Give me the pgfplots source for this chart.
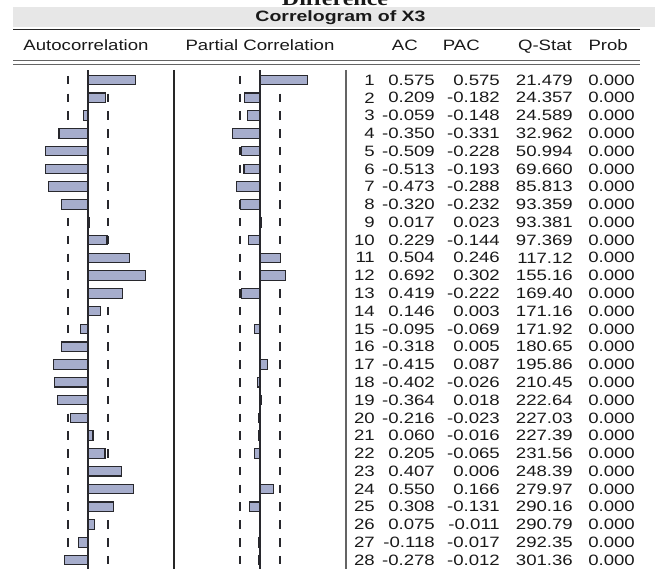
\documentclass[border=0pt]{standalone}
\usepackage{pgfplots}
\pgfplotsset{compat=1.18}
\usepackage{pgfplotstable}
\usepackage{graphicx}
\usepackage{fontspec}
\setmainfont{Liberation Sans}
\newfontfamily\serifbold{Liberation Serif}
\definecolor{barfill}{RGB}{166,173,204}
\definecolor{bardraw}{RGB}{40,40,45}
\definecolor{band}{RGB}{231,231,231}
\definecolor{rulegray}{RGB}{100,100,100}
\definecolor{txt}{RGB}{25,25,25}
\newcommand{\sx}[1]{\scalebox{1.24}[1]{#1}}
\newcommand{\rowfont}{\fontsize{15}{17}\selectfont}

\pgfplotstableread{
lag ac pac q prob
1 0.575 0.575 21.479 0.000
2 0.209 -0.182 24.357 0.000
3 -0.059 -0.148 24.589 0.000
4 -0.350 -0.331 32.962 0.000
5 -0.509 -0.228 50.994 0.000
6 -0.513 -0.193 69.660 0.000
7 -0.473 -0.288 85.813 0.000
8 -0.320 -0.232 93.359 0.000
9 0.017 0.023 93.381 0.000
10 0.229 -0.144 97.369 0.000
11 0.504 0.246 117.12 0.000
12 0.692 0.302 155.16 0.000
13 0.419 -0.222 169.40 0.000
14 0.146 0.003 171.16 0.000
15 -0.095 -0.069 171.92 0.000
16 -0.318 0.005 180.65 0.000
17 -0.415 0.087 195.86 0.000
18 -0.402 -0.026 210.45 0.000
19 -0.364 0.018 222.64 0.000
20 -0.216 -0.023 227.03 0.000
21 0.060 -0.016 227.39 0.000
22 0.205 -0.065 231.56 0.000
23 0.407 0.006 248.39 0.000
24 0.550 0.166 279.97 0.000
25 0.308 -0.131 290.16 0.000
26 0.075 -0.011 290.79 0.000
27 -0.118 -0.017 292.35 0.000
28 -0.278 -0.012 301.36 0.000
}\corr

\tikzset{
  dashline/.style={draw=bardraw, line width=1.2pt, dash pattern=on 8.5pt off 9.28pt},
  zeroline/.style={draw=bardraw, line width=1.3pt},
}
\pgfplotsset{
  panel/.style={scale only axis, hide axis, y dir=reverse, ymin=0, ymax=28.5,
    clip=false, height=506.78pt, at={(0,0)}, anchor=south west},
  corrbar/.style={xbar, bar width=9.5pt, fill=barfill, draw=bardraw, line width=1.1pt},
  txtcol/.style={draw=none, mark=none, forget plot, point meta=explicit symbolic,
    nodes near coords={\sx{\pgfplotspointmeta}},
    nodes near coords style={anchor=east, inner sep=0pt, text=txt, font=\rowfont}},
}

\begin{document}
\begin{tikzpicture}[x=1pt,y=1pt]
% header band
\fill[band] (13,569-27) rectangle (655,569-7);
\node[anchor=base, inner sep=0pt, font=\serifbold\bfseries\fontsize{20}{24}\selectfont, text=txt] at (335,569-5.5) {\scalebox{1.2}[1]{Difference}};
\node[anchor=base, inner sep=0pt, font=\bfseries\fontsize{15}{17}\selectfont, text=txt] at (340.5,569-21.9) {\scalebox{1.3}[1]{Correlogram of X3}};
\draw[line width=1.5pt, draw=black!85] (13,569-29.3) -- (640,569-29.3);
% column headers
\begin{scope}[every node/.style={inner sep=0pt, text=txt, font=\rowfont}]
\node[anchor=base] at (86,569-50.7) {\sx{Autocorrelation}};
\node[anchor=base] at (260,569-50.7) {\sx{Partial Correlation}};
\node[anchor=base east] at (418,569-50.7) {\sx{AC}};
\node[anchor=base east] at (480,569-50.7) {\sx{PAC}};
\node[anchor=base east] at (572,569-50.7) {\sx{Q-Stat}};
\node[anchor=base east] at (628,569-50.7) {\sx{Prob}};
\end{scope}
\draw[line width=1.4pt, draw=rulegray] (13,569-60.7) -- (640,569-60.7);
\draw[line width=1.4pt, draw=rulegray] (13,569-64.7) -- (640,569-64.7);
% separators
\draw[line width=1.2pt, draw=black!85] (174,569-70) -- (174,0);
\draw[line width=2pt, draw=rulegray] (345.5,569-70) -- (345.5,0);

% Autocorrelation panel (axis box spans x = 0..174 px, zero at 88 px, 83 px per unit)
\begin{axis}[panel, width=174pt, xmin=-1.0602, xmax=1.0361]
\draw[dashline] (axis cs:-0.241,0.761) -- (axis cs:-0.241,28.5);
\draw[dashline] (axis cs:0.241,0.761) -- (axis cs:0.241,28.5);
\addplot[corrbar] table[x=ac, y=lag] {\corr};
\draw[zeroline] (axis cs:0,0.44) -- (axis cs:0,28.5);
\end{axis}

% Partial correlation panel (axis box spans x = 0..344 px, zero at 260 px)
\begin{axis}[panel, width=344pt, xmin=-3.13253, xmax=1.01205]
\draw[dashline] (axis cs:-0.241,0.761) -- (axis cs:-0.241,28.5);
\draw[dashline] (axis cs:0.241,0.761) -- (axis cs:0.241,28.5);
\addplot[corrbar] table[x=pac, y=lag] {\corr};
\draw[zeroline] (axis cs:0,0.44) -- (axis cs:0,28.5);
\end{axis}

% numeric table (axis x in pixels)
\begin{axis}[panel, width=660pt, xmin=0, xmax=660]
\addplot[txtcol] table[x expr=375, y=lag, meta=lag] {\corr};
\addplot[txtcol] table[x expr=435, y=lag, meta=ac] {\corr};
\addplot[txtcol] table[x expr=500, y=lag, meta=pac] {\corr};
\addplot[txtcol] table[x expr=573, y=lag, meta=q] {\corr};
\addplot[txtcol] table[x expr=635, y=lag, meta=prob] {\corr};
\end{axis}

\pgfresetboundingbox
\useasboundingbox (0,0) rectangle (660,569);
\end{tikzpicture}
\end{document}
